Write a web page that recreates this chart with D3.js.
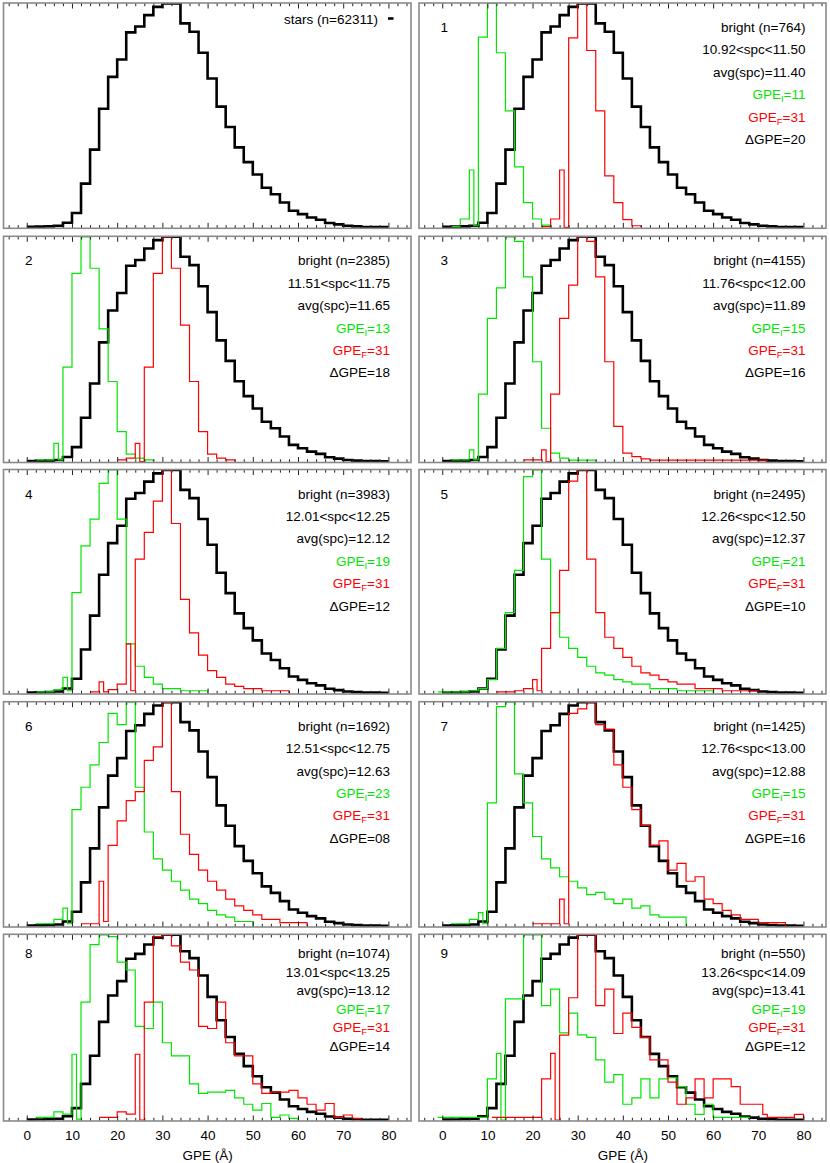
<!DOCTYPE html>
<html><head><meta charset="utf-8">
<script src="https://cdn.jsdelivr.net/npm/d3@7"></script>
<style>body{margin:0;background:#fff}svg{display:block;font-family:"Liberation Sans",Arial,sans-serif}</style>
</head><body>
<svg id="c" width="830" height="1163"></svg>
<script>
// ---------- DATA ----------
const xTickValues = [0,10,20,30,40,50,60,70,80];
const starsBinStart = 0, binWidth = 2;
const starsHist = [0.002,0.003,0.004,0.007,0.02,0.064,0.195,0.347,0.53,0.672,0.75,0.871,0.897,0.948,0.985,1.0,1.0,0.911,0.874,0.78,0.665,0.539,0.448,0.357,0.291,0.236,0.177,0.148,0.111,0.074,0.059,0.044,0.034,0.019,0.013,0.007,0.004,0.0015,0.0015,0.001];
const starsLabel = "stars (n=62311)";

const panelIds   = ["1","2","3","4","5","6","7","8","9"];
const brightN    = [764,2385,4155,3983,2495,1692,1425,1074,550];
const spcRange   = ["10.92<spc<11.50","11.51<spc<11.75","11.76<spc<12.00","12.01<spc<12.25","12.26<spc<12.50","12.51<spc<12.75","12.76<spc<13.00","13.01<spc<13.25","13.26<spc<14.09"];
const spcAvg     = ["11.40","11.65","11.89","12.12","12.37","12.63","12.88","13.12","13.41"];
const gpeI       = ["11","13","15","19","21","23","15","17","19"];
const gpeF       = ["31","31","31","31","31","31","31","31","31"];
const dGpe       = ["20","18","16","12","10","08","16","14","12"];

// step histograms: [left edge, normalised height]; last entry closes the step
const green1 = [[2,0.003],[4,0.037],[6,0.256],[7,0.007],[8,0.85],[10,1.0],[12,0.78],[14,0.52],[16,0.27],[18,0.11],[20,0.037],[22,0.01],[24,0]];
const red1   = [[22,0.003],[24,0.037],[26,0.256],[27,0],[28,0.846],[30,1.0],[32,0.79],[34,0.52],[36,0.23],[38,0.11],[40,0.034],[42,0.007],[44,0]];
const green2 = [[2,0.007],[6,0.081],[7,0.007],[8,0.42],[10,0.837],[12,1.0],[14,0.86],[16,0.59],[18,0.356],[20,0.133],[22,0.033],[24,0.015],[26,0.007],[28,0]];
const red2   = [[20,0.007],[22,0.015],[24,0.081],[25,0],[26,0.42],[28,0.837],[30,1.0],[32,0.86],[34,0.607],[36,0.356],[38,0.133],[40,0.033],[42,0.015],[44,0.007],[46,0]];
const green3 = [[2,0.007],[6,0.052],[7,0.007],[8,0.30],[10,0.637],[12,0.773],[14,1.0],[16,0.98],[18,0.822],[20,0.444],[22,0.148],[24,0.037],[26,0.015],[28,0.006],[34,0]];
const red3   = [[18,0.007],[22,0.052],[23,0],[24,0.30],[26,0.637],[28,0.785],[30,1.0],[32,0.98],[34,0.822],[36,0.444],[38,0.156],[40,0.037],[42,0.022],[44,0.012],[46,0.006],[72,0]];
const green4 = [[2,0.005],[6,0.015],[8,0.07],[9,0.01],[10,0.45],[12,0.66],[14,0.78],[16,0.94],[18,1.0],[20,0.78],[22,0.22],[24,0.12],[26,0.07],[28,0.04],[30,0.02],[34,0.01],[40,0]];
const red4   = [[14,0.005],[16,0.05],[17,0.005],[18,0.015],[20,0.04],[22,0.22],[23,0.01],[24,0.6],[26,0.72],[28,0.86],[30,1.0],[32,0.76],[34,0.42],[36,0.27],[38,0.17],[40,0.1],[42,0.07],[44,0.04],[46,0.03],[48,0.02],[52,0.01],[58,0]];
const green5 = [[-1,0.005],[6,0.01],[8,0.02],[10,0.06],[12,0.2],[14,0.36],[16,0.55],[18,0.97],[20,1.0],[22,0.6],[24,0.36],[26,0.25],[28,0.2],[30,0.16],[32,0.12],[34,0.09],[36,0.08],[38,0.06],[40,0.05],[42,0.04],[46,0.02],[52,0.01],[60,0]];
const red5   = [[12,0.005],[16,0.01],[18,0.02],[20,0.06],[21,0.01],[22,0.2],[24,0.36],[26,0.55],[28,0.95],[30,1.0],[32,0.6],[34,0.36],[36,0.25],[38,0.2],[40,0.16],[42,0.12],[44,0.09],[46,0.08],[48,0.06],[50,0.05],[52,0.04],[56,0.02],[62,0.01],[70,0]];
const green6 = [[2,0.01],[6,0.03],[8,0.08],[9,0.01],[10,0.52],[12,0.62],[14,0.72],[16,0.82],[18,0.95],[20,0.9],[22,1.0],[24,0.62],[26,0.42],[28,0.3],[30,0.25],[32,0.2],[34,0.16],[36,0.12],[38,0.1],[40,0.07],[42,0.05],[44,0.04],[46,0.02],[50,0]];
const red6   = [[12,0.01],[16,0.2],[17,0.02],[18,0.36],[20,0.47],[22,0.56],[24,0.6],[26,0.74],[28,0.8],[30,1.0],[32,0.6],[34,0.41],[36,0.32],[38,0.25],[40,0.2],[42,0.16],[44,0.12],[46,0.09],[48,0.07],[50,0.05],[52,0.03],[56,0.015],[62,0]];
const green7 = [[2,0.01],[6,0.03],[8,0.06],[9,0.01],[10,0.55],[12,0.98],[14,1.0],[16,0.68],[18,0.55],[20,0.4],[22,0.3],[24,0.26],[26,0.22],[28,0.2],[30,0.17],[32,0.14],[34,0.15],[36,0.12],[38,0.1],[40,0.12],[42,0.08],[44,0.09],[46,0.05],[48,0.04],[50,0.04],[54,0]];
const red7   = [[20,0.01],[26,0.12],[27,0.01],[28,0.95],[30,0.97],[32,1.0],[34,0.9],[36,0.88],[38,0.72],[40,0.62],[42,0.52],[44,0.45],[46,0.36],[48,0.38],[50,0.25],[52,0.28],[54,0.2],[56,0.22],[58,0.12],[60,0.1],[62,0.07],[64,0.05],[66,0.03],[70,0.015],[76,0]];
const green8 = [[2,0.014],[6,0.044],[8,0.032],[10,0.355],[11,0.005],[12,0.636],[14,0.947],[16,1.0],[18,0.99],[20,0.852],[22,0.81],[24,0.506],[26,0.494],[28,0.636],[30,0.417],[32,0.346],[36,0.195],[38,0.144],[40,0.151],[44,0.16],[46,0.12],[48,0.085],[50,0.053],[52,0.089],[54,0.014],[56,0.027],[58,0.009],[60,0]];
const red8   = [[16,0.014],[20,0.044],[22,0.032],[24,0.355],[25,0],[26,0.636],[28,0.99],[30,1.0],[32,0.94],[34,0.852],[36,0.81],[38,0.506],[40,0.494],[42,0.636],[44,0.417],[46,0.346],[50,0.195],[52,0.144],[54,0.151],[58,0.16],[60,0.12],[62,0.085],[64,0.053],[66,0.089],[68,0.014],[70,0.027],[72,0.009],[74,0]];
const green9 = [[-1,0.014],[10,0.222],[12,0.36],[13,0],[14,0.654],[18,1.0],[22,0.618],[24,0.707],[26,0.47],[28,0.577],[30,0.46],[32,0.446],[34,0.325],[36,0.204],[38,0.245],[40,0.085],[42,0.12],[44,0.222],[46,0.12],[48,0.222],[50,0.228],[52,0.18],[54,0.085],[56,0.03],[58,0.085],[60,0.014],[68,0]];
const red9   = [[11,0.014],[22,0.222],[24,0.36],[25,0],[26,0.458],[28,0.66],[30,1.0],[34,0.618],[36,0.707],[38,0.467],[40,0.577],[42,0.50],[44,0.446],[46,0.325],[48,0.325],[50,0.204],[52,0.085],[54,0.12],[56,0.222],[58,0.12],[60,0.222],[64,0.18],[66,0.085],[70,0.085],[71,0.03],[72,0.014],[78,0.03],[80,0]];
const greenSeries = [green1,green2,green3,green4,green5,green6,green7,green8,green9];
const redSeries   = [red1,red2,red3,red4,red5,red6,red7,red8,red9];

// ---------- LAYOUT ----------
const colX = [[3.5,411],[419,826]];
const rowY = [[3,228.3],[236.3,462.5],[469.5,694],[701.7,927],[934.3,1121]];
const xDomain = [-5.15, 85];
const GREEN = "#00e600", RED = "#ff0000";

const svg = d3.select("#c");
const defs = svg.append("defs");
const starsSteps = starsHist.map((v,i)=>[starsBinStart+i*binWidth, v]).concat([[starsBinStart+starsHist.length*binWidth, starsHist[starsHist.length-1]]]);

function panel(idx){
  const col = idx % 2, row = Math.floor(idx/2);
  const [x0,x1] = colX[col], [y0,y1] = rowY[row];
  const x = d3.scaleLinear().domain(xDomain).range([x0,x1]);
  const y = d3.scaleLinear().domain([0,1]).range([y1-1, y0+0.5]);
  const g = svg.append("g");
  const cid = "clip"+idx;
  defs.append("clipPath").attr("id",cid).append("rect").attr("x",x0).attr("y",y0).attr("width",x1-x0).attr("height",y1-y0);
  const line = d3.line().x(d=>x(d[0])).y(d=>y(d[1])).curve(d3.curveStepAfter);
  const plot = g.append("g").attr("clip-path",`url(#${cid})`);
  plot.append("path").attr("d",line(starsSteps)).attr("fill","none").attr("stroke","#000").attr("stroke-width",2.6).attr("stroke-linejoin","miter");
  if(idx>0){
    plot.append("path").attr("d",line(greenSeries[idx-1])).attr("fill","none").attr("stroke",GREEN).attr("stroke-width",1.2);
    plot.append("path").attr("d",line(redSeries[idx-1])).attr("fill","none").attr("stroke",RED).attr("stroke-width",1.2);
  }
  const major = d3.range(0,81,10), minor = d3.range(-4,85,2).filter(v=>v%10!==0);
  const axB = d3.axisBottom(x).tickValues(major).tickSize(-5.5).tickFormat("");
  const axBm = d3.axisBottom(x).tickValues(minor).tickSize(-3.2).tickFormat("");
  const axT = d3.axisTop(x).tickValues(major).tickSize(-5.5).tickFormat("");
  const axTm = d3.axisTop(x).tickValues(minor).tickSize(-3.2).tickFormat("");
  [[axB,y1],[axBm,y1],[axT,y0],[axTm,y0]].forEach(([a,yy])=>{
    const ga = g.append("g").attr("transform",`translate(0,${yy})`).call(a);
    ga.select(".domain").remove();
    ga.selectAll("line").attr("stroke","#222").attr("stroke-width",1);
  });
  g.append("rect").attr("x",x0).attr("y",y0).attr("width",x1-x0).attr("height",y1-y0).attr("fill","none").attr("stroke","#8a8a8a").attr("stroke-width",1.6);

  if(row===4){
    const ax = d3.axisBottom(x).tickValues(xTickValues).tickSize(0).tickPadding(0);
    const ga = g.append("g").attr("transform",`translate(0,${y1})`).call(ax);
    ga.select(".domain").remove();
    ga.selectAll("text").attr("font-size",13.5).attr("font-family","Liberation Sans, Arial, sans-serif").attr("fill","#000").attr("dy",null).attr("y",18.5);
    g.append("text").attr("x",x(40)).attr("y",1160).attr("text-anchor","middle").attr("font-size",13.5).text("GPE (Å)");
  }

  const fs = 13.5;
  if(idx===0){
    g.append("text").attr("x",x0+374.5).attr("y",y0+20.5).attr("text-anchor","end").attr("font-size",fs).text(starsLabel);
    g.append("line").attr("x1",x0+384.5).attr("x2",x0+390).attr("y1",y0+15.5).attr("y2",y0+15.5).attr("stroke","#000").attr("stroke-width",2.6);
    return;
  }
  const k = idx-1;
  const first = row===4 ? 24 : 29, step = row===4 ? 18.5 : 22.4;
  const tx = x0+386.5;
  g.append("text").attr("x",x0+21.5).attr("y",y0+first).attr("font-size",fs).text(panelIds[k]);
  const lines = [
    {t:`bright (n=${brightN[k]})`, c:"#000"},
    {t:spcRange[k], c:"#000"},
    {t:`avg(spc)=${spcAvg[k]}`, c:"#000"},
    {sub:"I", v:gpeI[k], c:GREEN},
    {sub:"F", v:gpeF[k], c:RED},
    {t:`\u0394GPE=${dGpe[k]}`, c:"#000"}
  ];
  lines.forEach((L,i)=>{
    const t = g.append("text").attr("x",tx).attr("y",y0+first+i*step).attr("text-anchor","end").attr("font-size",fs).attr("fill",L.c);
    if(L.sub){
      t.append("tspan").text("GPE");
      t.append("tspan").attr("font-size",9.5).attr("dy",3).text(L.sub);
      t.append("tspan").attr("dy",-3).text("="+L.v);
    } else t.text(L.t);
  });
}
for(let i=0;i<10;i++) panel(i);
</script>
</body></html>
